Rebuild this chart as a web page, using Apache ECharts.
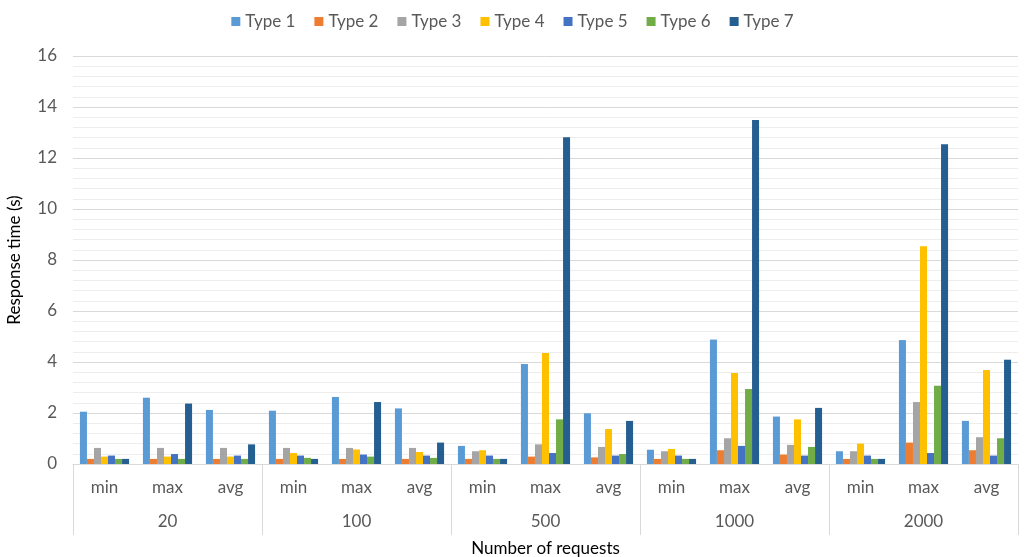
<!DOCTYPE html>
<html>
<head>
<meta charset="utf-8">
<title>Response time by number of requests</title>
<script src="https://cdn.jsdelivr.net/npm/echarts@6/dist/echarts.min.js"></script>
<style>
  html, body { margin: 0; padding: 0; background: #ffffff; overflow: hidden; }
  #chart { width: 1025px; height: 557px; }
</style>
</head>
<body>
<div id="chart"></div>
<script>
// Request-count groups and the statistic shown inside each group
const groups = ['20', '100', '500', '1000', '2000'];
const stats = ['min', 'max', 'avg'];
const seriesNames = ['Type 1', 'Type 2', 'Type 3', 'Type 4', 'Type 5', 'Type 6', 'Type 7'];

// Response times in seconds, ordered group by group: min, max, avg
const type1 = [2.05, 2.60, 2.12,  2.09, 2.63, 2.18,  0.71, 3.92, 1.99,  0.56, 4.88, 1.86,  0.50, 4.86, 1.69];
const type2 = [0.20, 0.20, 0.20,  0.20, 0.20, 0.20,  0.20, 0.29, 0.26,  0.20, 0.54, 0.37,  0.20, 0.84, 0.54];
const type3 = [0.63, 0.63, 0.63,  0.63, 0.63, 0.63,  0.50, 0.77, 0.67,  0.50, 1.01, 0.75,  0.50, 2.43, 1.05];
const type4 = [0.29, 0.29, 0.29,  0.43, 0.57, 0.47,  0.54, 4.35, 1.37,  0.59, 3.57, 1.75,  0.80, 8.54, 3.69];
const type5 = [0.33, 0.39, 0.33,  0.33, 0.37, 0.33,  0.33, 0.43, 0.33,  0.33, 0.71, 0.33,  0.33, 0.43, 0.33];
const type6 = [0.20, 0.20, 0.20,  0.24, 0.29, 0.24,  0.20, 1.75, 0.39,  0.20, 2.94, 0.67,  0.20, 3.07, 1.01];
const type7 = [0.20, 2.37, 0.77,  0.20, 2.43, 0.84,  0.20, 12.81, 1.69, 0.20, 13.49, 2.20, 0.20, 12.54, 4.09];

const seriesValues = [type1, type2, type3, type4, type5, type6, type7];
const palette = ['#5B9BD5', '#ED7D31', '#A5A5A5', '#FFC000', '#4472C4', '#70AD47', '#255E91'];

// Inner category labels: min/max/avg repeated for each group
const innerLabels = [];
groups.forEach(function () { stats.forEach(function (s) { innerLabels.push(s); }); });

const FONT = 'Lato, "Open Sans", "Noto Sans", sans-serif';
const FS = 17;
const TEXT = '#595959';
const LINE = '#D9D9D9';

const chart = echarts.init(document.getElementById('chart'), null, { renderer: 'canvas' });

chart.setOption({
  animation: false,
  color: palette,
  textStyle: { fontFamily: FONT, color: TEXT },
  legend: {
    top: 8,
    left: 'center',
    itemWidth: 9,
    itemHeight: 9,
    itemGap: 19,
    icon: 'rect',
    textStyle: { fontFamily: FONT, fontSize: FS, color: TEXT },
    data: seriesNames
  },
  grid: {
    left: 73, right: 7, top: 56, bottom: 93,
    containLabel: false,
    outerBoundsMode: 'none'
  },
  xAxis: [
    {
      type: 'category',
      data: innerLabels,
      position: 'bottom',
      axisLine: { show: true, lineStyle: { color: LINE, width: 1 } },
      axisTick: { show: false },
      axisLabel: { margin: 15, fontFamily: FONT, fontSize: FS, color: TEXT, interval: 0 },
      splitLine: { show: false }
    },
    {
      type: 'category',
      data: groups,
      position: 'bottom',
      axisLine: { show: false },
      axisTick: {
        show: true,
        alignWithLabel: false,
        interval: 0,
        length: 71,
        lineStyle: { color: LINE, width: 1 }
      },
      axisLabel: { margin: 49, fontFamily: FONT, fontSize: FS, color: TEXT, interval: 0 },
      name: 'Number of requests',
      nameLocation: 'middle',
      nameGap: 76,
      nameTextStyle: { fontFamily: FONT, fontSize: FS, color: '#000000' }
    }
  ],
  yAxis: {
    type: 'value',
    min: 0,
    max: 16,
    interval: 2,
    name: 'Response time (s)',
    nameLocation: 'middle',
    nameRotate: 90,
    nameGap: 50,
    nameTextStyle: { fontFamily: FONT, fontSize: FS, color: '#000000' },
    axisLine: { show: false },
    axisTick: { show: false },
    axisLabel: { margin: 16, fontFamily: FONT, fontSize: FS, color: TEXT },
    splitLine: { show: true, lineStyle: { color: LINE, width: 1 } },
    minorTick: { show: false, splitNumber: 5 },
    minorSplitLine: { show: true, lineStyle: { color: '#EDEDED', width: 1 } }
  },
  series: seriesNames.map(function (name, i) {
    return {
      name: name,
      type: 'bar',
      xAxisIndex: 0,
      data: seriesValues[i],
      barGap: '0%',
      barCategoryGap: '22%',
      itemStyle: { color: palette[i] }
    };
  })
});
</script>
</body>
</html>
